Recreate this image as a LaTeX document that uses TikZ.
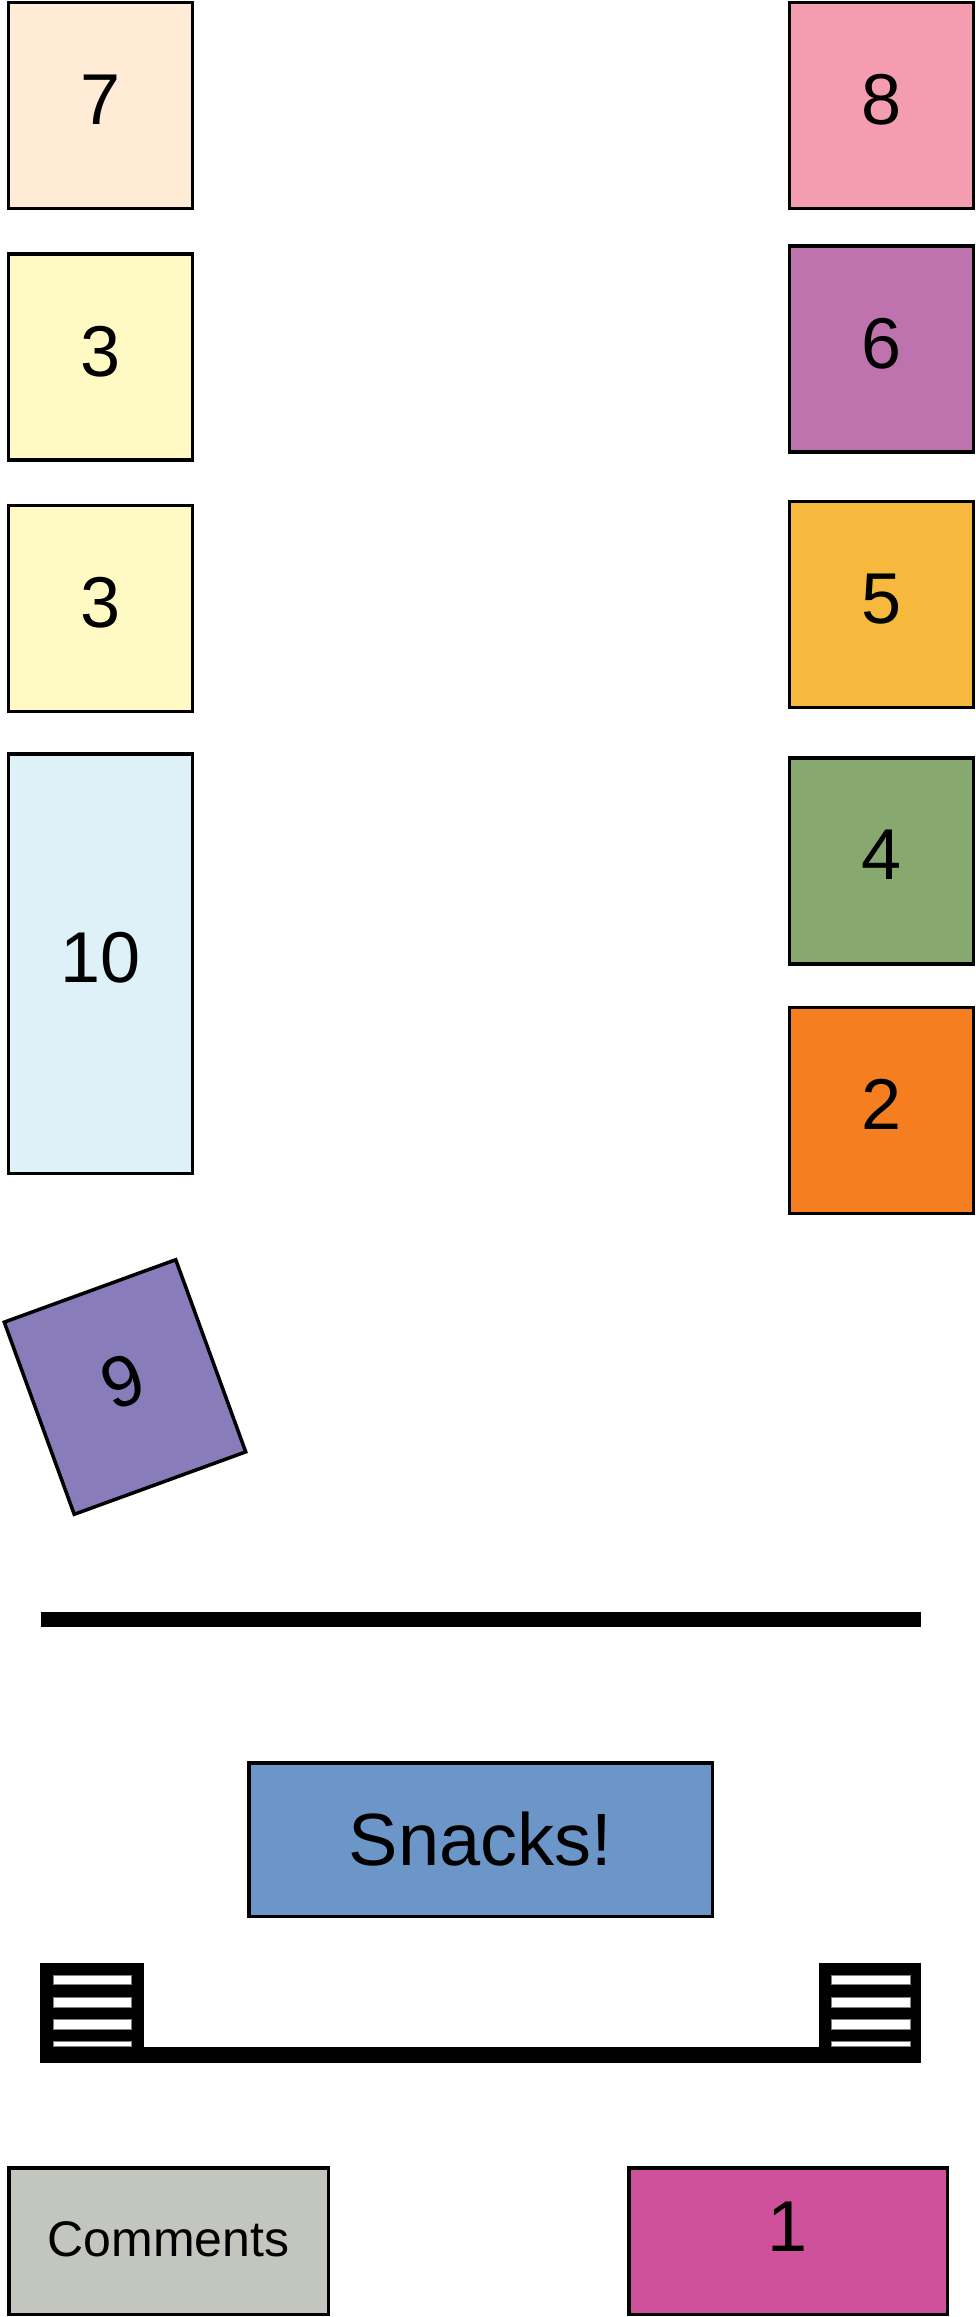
\documentclass[tikz,border=0pt]{standalone}
\usepackage{fontspec}
\setmainfont{Liberation Sans}
\usetikzlibrary{positioning}
\definecolor{peach}{RGB}{255,235,214}
\definecolor{lemon}{RGB}{255,250,196}
\definecolor{skyblue}{RGB}{222,241,248}
\definecolor{rosepink}{RGB}{244,156,176}
\definecolor{orchid}{RGB}{190,115,175}
\definecolor{amber}{RGB}{246,185,61}
\definecolor{sage}{RGB}{135,169,111}
\definecolor{tangerine}{RGB}{244,126,32}
\definecolor{lavender}{RGB}{136,125,186}
\definecolor{snackblue}{RGB}{108,150,200}
\definecolor{stone}{RGB}{195,198,191}
\definecolor{magenta}{RGB}{207,81,155}

\begin{document}
\begin{tikzpicture}[
    x=1pt, y=-1pt,
    node distance=42pt,
    stall/.style={rectangle, draw=black, line width=3.5pt, inner sep=0pt,
                  minimum width=184pt, minimum height=206pt, text depth=12pt,
                  font=\fontsize{72}{72}\selectfont},
    wall/.style={line width=15pt},
    slat/.style={fill=white, draw=gray, line width=0.6pt}
]
\useasboundingbox (0,0) rectangle (976,2317);

% left row
\node (seven) [stall, fill=peach] at (100.5,105.5) {7};
\node (threeA) [stall, fill=lemon, below=of seven] {3};
\node (threeB) [stall, fill=lemon, below=of threeA] {3};
\node (ten) [stall, fill=skyblue, minimum height=419.5pt, below=of threeB, yshift=3pt] {10};
\node (nine) [stall, fill=lavender, minimum width=182.5pt, minimum height=204.5pt, rotate=20] at (125,1387) {9};

% right row
\node (eight) [stall, fill=rosepink] at (881.5,105.5) {8};
\node (six) [stall, fill=orchid, below=of eight, yshift=8pt] {6};
\node (five) [stall, fill=amber, below=of six, yshift=-4pt] {5};
\node (four) [stall, fill=sage, below=of five, yshift=-5pt] {4};
\node (two) [stall, fill=tangerine, below=of four, yshift=2pt] {2};

% wall
\coordinate (wallL) at (41,1619);
\coordinate (wallR) at (921,1619);
\draw [wall] (wallL) -- (wallR);

\node (snacks) [stall, fill=snackblue, minimum width=463.5pt, minimum height=153.5pt,
    text depth=2pt, font=\fontsize{74}{74}\selectfont] at (480.5,1839.5) {Snacks!};

% stairs and stage
\fill [black] (40,1963) rectangle (144,2063);
\fill [black] (819,1963) rectangle (921,2063);
\fill [black] (40,2047) rectangle (921,2063);
\draw [slat] (53,1975) rectangle (131,1984);
\draw [slat] (53,1997) rectangle (131,2007);
\draw [slat] (53,2019) rectangle (131,2029);
\draw [slat] (53,2041) rectangle (131,2046);
\draw [slat] (831,1975) rectangle (910,1984);
\draw [slat] (831,1997) rectangle (910,2007);
\draw [slat] (831,2019) rectangle (910,2029);
\draw [slat] (831,2041) rectangle (910,2046);

% bottom
\node (comments) [stall, fill=stone, minimum width=319.5pt, minimum height=146.5pt,
    text depth=4pt, font=\fontsize{50}{50}\selectfont] at (168.5,2241) {Comments};
\node (one) [stall, fill=magenta, minimum width=318.5pt, minimum height=146.5pt,
    text depth=28pt] at (788,2241) {1};

\end{tikzpicture}
\end{document}
